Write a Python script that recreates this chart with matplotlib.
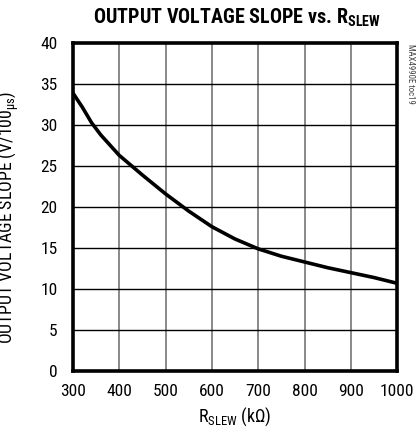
import matplotlib.pyplot as plt

# curve
r_slew = [300, 320, 340, 360, 400, 450, 500, 550, 600, 650, 700, 750, 800, 850, 900, 950, 1000]
slope = [33.9, 32.2, 30.3, 28.8, 26.3, 23.9, 21.6, 19.5, 17.6, 16.1, 14.9, 14.0, 13.3, 12.6, 12.0, 11.4, 10.7]

x_ticks = [300, 400, 500, 600, 700, 800, 900, 1000]
y_ticks = [0, 5, 10, 15, 20, 25, 30, 35, 40]

plt.rcParams['font.family'] = ['Roboto Condensed', 'DejaVu Sans']
plt.rcParams['mathtext.fontset'] = 'custom'
plt.rcParams['mathtext.rm'] = 'Roboto Condensed'
plt.rcParams['mathtext.it'] = 'Roboto Condensed:italic'
plt.rcParams['mathtext.bf'] = 'Roboto Condensed:black'


def main():
    fig = plt.figure(figsize=(4.19, 4.34), dpi=100)
    ax = fig.add_axes([0.174, 0.145, 0.774, 0.756])

    ax.plot(r_slew, slope, color='black', lw=2.6, solid_capstyle='butt', zorder=3)

    ax.set_xlim(300, 1000)
    ax.set_ylim(0, 40)
    ax.set_xticks(x_ticks)
    ax.set_yticks(y_ticks)
    ax.tick_params(length=0, labelsize=12.5)
    ax.tick_params(axis='y', pad=11)
    ax.tick_params(axis='x', pad=9)

    # vertical grid is grey, horizontal black
    for x in x_ticks[1:-1]:
        ax.axvline(x, color='#808080', lw=1.3, zorder=1)
    for y in y_ticks[1:-1]:
        ax.axhline(y, color='black', lw=1.0, zorder=1)

    for s in ax.spines.values():
        s.set_linewidth(2.6)

    ax.set_xlabel(r'R$_{\mathregular{SLEW}}$ (k$\mathregular{\Omega}$)', fontsize=13, labelpad=5)
    ax.set_ylabel(r'OUTPUT VOLTAGE SLOPE (V/100$_{\mathregular{\mu s}}$)', fontsize=12.8)
    ax.yaxis.set_label_coords(-0.16, 0.47)

    fig.text(0.566, 0.960, r'OUTPUT VOLTAGE SLOPE vs. R$_{\mathbf{SLEW}}$',
             ha='center', va='center', fontsize=14.5, fontweight='black')

    fig.text(0.979, 0.898, 'MAX4990E toc19', rotation=270, ha='center', va='top',
             fontsize=6.3, color='#444444')

    fig.savefig('out.png', dpi=100)


if __name__ == '__main__':
    main()
